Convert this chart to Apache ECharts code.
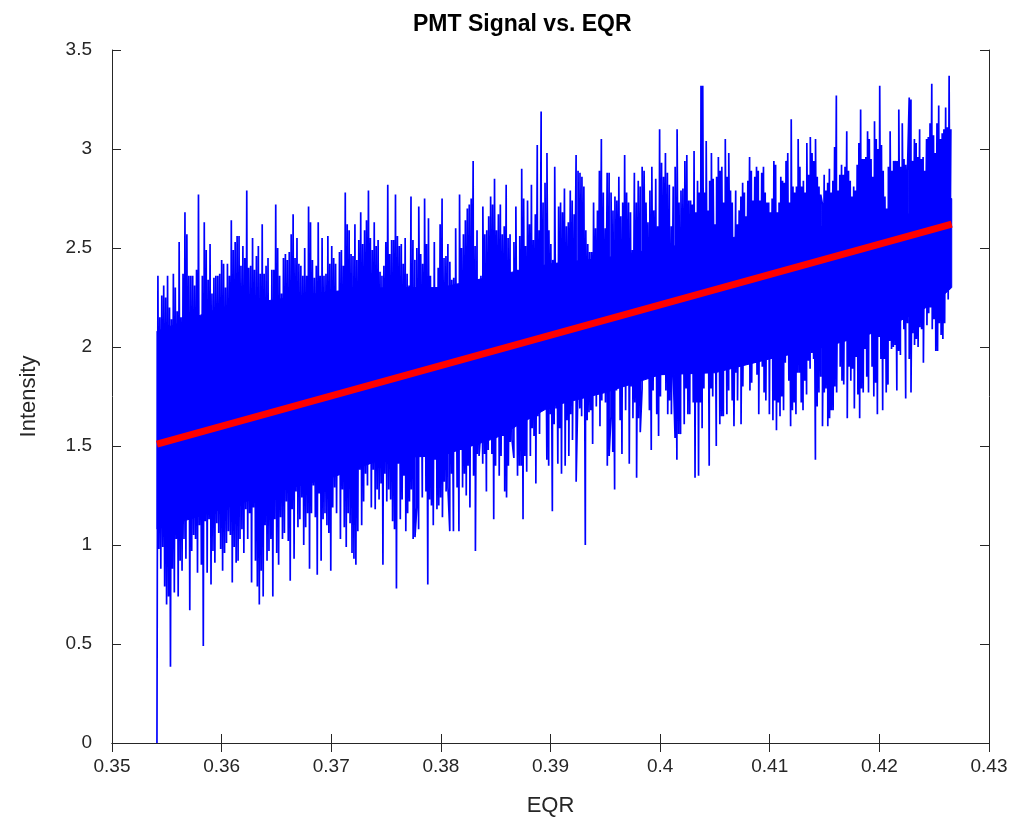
<!DOCTYPE html>
<html><head><meta charset="utf-8">
<script src="https://cdn.jsdelivr.net/npm/echarts@6/dist/echarts.min.js"></script>
<style>html,body{margin:0;padding:0;background:#fff}#c{width:1020px;height:818px}</style>
</head><body><div id="c"></div>
<script>
// ---- data ----
// EQR where each run of readings starts / ends
const runBreaks = [0.3541, 0.3763, 0.4027, 0.4266];

// upper ends of the signal spikes, three runs left to right
const upperRun1 = [
  2.36, 2.15, 2.26, 2.31, 2.25, 2.36, 2.20, 2.14, 2.37, 2.30,
  2.18, 2.53, 2.15, 2.37, 2.68, 2.57, 2.36, 2.36, 2.36, 2.31,
  2.39, 2.77, 2.11, 2.36, 2.63, 2.49, 2.34, 2.52, 2.27, 2.35,
  2.36, 2.36, 2.37, 2.44, 2.42, 2.30, 2.42, 2.36, 2.64, 2.49,
  2.53, 2.56, 2.56, 2.41, 2.51, 2.45, 2.79, 2.40, 2.41, 2.55,
  2.39, 2.46, 2.51, 2.37, 2.62, 2.37, 2.41, 2.45, 2.23, 2.39,
  2.39, 2.72, 2.50, 2.36, 2.27, 2.45, 2.47, 2.44, 2.48, 2.57,
  2.67, 2.45, 2.55, 2.42, 2.41, 2.36, 2.50, 2.36, 2.71, 2.63,
  2.44, 2.35, 2.41, 2.63, 2.36, 2.55, 2.36, 2.37, 2.56, 2.42,
  2.51, 2.45, 2.42, 2.21, 2.48, 2.49, 2.41, 2.78, 2.62, 2.59,
  2.47, 2.46, 2.62, 2.44, 2.54, 2.68, 2.52, 2.59, 2.64, 2.79,
  2.55, 2.49, 2.63, 2.51, 2.54, 2.38, 2.36, 2.41, 2.53, 2.82,
  2.47, 2.54, 2.54, 2.77, 2.56, 2.51
];
const upperRun2 = [
  2.52, 2.42, 2.55, 2.37, 2.31, 2.76, 2.54, 2.44, 2.50, 2.71,
  2.47, 2.42, 2.75, 2.52, 2.65, 2.36, 2.24, 2.53, 2.30, 2.40,
  2.62, 2.75, 2.45, 2.46, 2.52, 2.43, 2.34, 2.35, 2.60, 2.32,
  2.77, 2.50, 2.57, 2.64, 2.70, 2.72, 2.75, 2.94, 2.51, 2.59,
  2.31, 2.36, 2.71, 2.57, 2.59, 2.66, 2.76, 2.72, 2.85, 2.59,
  2.67, 2.72, 2.57, 2.61, 2.82, 2.55, 2.57, 2.27, 2.53, 2.71,
  2.39, 2.56, 2.90, 2.75, 2.51, 2.74, 2.62, 2.82, 2.54, 2.67,
  3.02, 2.59, 3.19, 2.73, 2.83, 2.98, 2.59, 2.52, 2.44, 2.91,
  2.42, 2.71, 2.73, 2.68, 2.80, 2.61, 2.63, 2.79, 2.74, 2.67,
  2.97, 2.89, 2.88, 2.86, 2.81, 2.59, 2.52, 2.48, 2.48, 2.73,
  2.60, 2.69, 2.89, 3.05, 2.78, 2.60, 2.88, 2.88, 2.78, 2.69,
  2.76, 2.74, 2.86, 2.66, 2.73, 2.97, 2.78, 2.73, 2.68, 2.49,
  2.88, 2.73, 2.84, 2.81, 2.91, 2.89, 2.73, 2.63, 2.79, 2.91,
  2.69, 2.85, 2.61, 3.10, 2.93, 2.86, 2.98, 2.88, 2.82, 2.61,
  2.81, 2.91, 3.10, 2.73, 2.79, 2.80, 2.94, 2.97, 2.74
];
const upperRun3 = [
  2.74, 2.72, 2.99, 2.68, 2.84, 2.78, 3.32, 3.32, 2.78, 3.04,
  2.69, 2.84, 2.98, 2.85, 2.62, 2.86, 2.96, 2.89, 2.91, 2.73,
  3.05, 2.86, 2.98, 2.79, 2.73, 2.72, 2.79, 2.62, 2.69, 2.76,
  2.83, 2.78, 2.66, 2.84, 2.96, 2.89, 2.74, 2.86, 2.91, 2.89,
  2.74, 2.88, 2.91, 2.78, 2.73, 2.73, 2.68, 2.75, 2.94, 2.92,
  2.68, 2.73, 2.86, 2.84, 2.83, 2.94, 2.98, 2.73, 3.15, 2.81,
  2.78, 2.81, 3.05, 2.91, 2.81, 2.84, 2.78, 3.03, 2.87, 3.06,
  2.98, 2.94, 3.05, 2.86, 2.81, 2.77, 2.72, 2.87, 2.79, 2.83,
  2.90, 2.78, 2.84, 3.01, 3.27, 2.79, 2.87, 2.92, 2.87, 2.91,
  3.09, 2.89, 2.84, 2.76, 2.81, 2.79, 2.92, 3.03, 3.20, 2.95,
  2.95, 2.96, 3.09, 3.05, 2.95, 2.86, 3.14, 3.05, 3.00, 3.32,
  3.02, 2.89, 2.76, 2.70, 2.91, 3.09, 2.89, 2.94, 2.94, 2.94,
  3.20, 2.91, 3.13, 2.95, 2.92, 2.89, 3.26, 3.25, 2.94, 3.05,
  3.03, 2.96, 3.10, 2.95, 2.96, 2.89, 3.05, 3.06, 3.13, 3.33,
  3.07, 2.98, 3.13, 3.22, 3.05, 3.08, 3.10, 3.21, 3.11, 3.37,
  3.10
];

// lower ends of the signal spikes, three runs left to right
const lowerRun1 = [
  0, 0.98, 0.88, 0.99, 0.79, 0.70, 0.74, 0.385, 0.88, 0.76,
  1.03, 0.74, 0.92, 0.87, 1.03, 0.93, 1.14, 0.67, 0.97, 1.05,
  1.03, 0.86, 1.10, 0.90, 0.49, 1.12, 0.86, 1.13, 0.80, 0.97,
  0.91, 1.11, 1.06, 0.98, 0.87, 0.96, 1.01, 1.07, 1.05, 0.81,
  0.99, 0.91, 0.92, 1.03, 1.08, 0.96, 1.18, 1.03, 1.16, 0.81,
  1.19, 0.92, 0.79, 0.70, 0.87, 0.74, 1.10, 0.92, 0.97, 1.03,
  0.74, 1.13, 0.96, 0.90, 1.14, 1.03, 1.06, 1.22, 1.02, 0.82,
  1.18, 0.93, 1.27, 1.09, 1.13, 1.24, 1.00, 1.09, 1.16, 0.88,
  1.16, 1.30, 1.14, 0.85, 1.26, 0.92, 1.13, 1.16, 1.10, 1.06,
  0.87, 1.19, 1.29, 1.16, 1.36, 1.03, 1.28, 1.09, 0.99, 1.16,
  1.11, 0.96, 0.93, 0.90, 1.07, 1.38, 1.10, 1.22, 1.36, 1.30,
  1.41, 1.19, 1.38, 1.18, 1.28, 1.23, 1.31, 0.90, 1.36, 1.22,
  1.28, 1.23, 1.12, 1.08, 0.78, 1.41
];
const lowerRun2 = [
  1.13, 1.23, 1.35, 1.07, 1.16, 1.22, 1.28, 1.03, 1.04, 1.19,
  1.08, 1.48, 1.24, 1.55, 1.27, 0.80, 1.23, 1.20, 1.10, 1.43,
  1.18, 1.20, 1.24, 1.14, 1.32, 1.27, 1.29, 1.07, 1.36, 1.07,
  1.53, 1.29, 1.07, 1.48, 1.29, 1.36, 1.25, 1.40, 1.19, 1.50,
  1.35, 0.97, 1.46, 1.45, 1.59, 1.41, 1.46, 1.27, 1.48, 1.56,
  1.46, 1.13, 1.40, 1.60, 1.35, 1.45, 1.55, 1.27, 1.24, 1.40,
  1.52, 1.53, 1.44, 1.70, 1.35, 1.40, 1.40, 1.13, 1.45, 1.37,
  1.69, 1.45, 1.59, 1.55, 1.31, 1.65, 1.56, 1.76, 1.70, 1.86,
  1.43, 1.40, 1.66, 1.17, 1.61, 1.69, 1.41, 1.59, 1.36, 1.81,
  1.40, 1.63, 1.45, 1.66, 1.53, 1.96, 1.32, 1.80, 1.69, 1.65,
  1.85, 1.00, 1.63, 1.67, 1.68, 1.51, 1.83, 1.70, 1.80, 1.60,
  1.73, 1.93, 1.72, 1.40, 1.45, 1.65, 1.47, 1.28, 1.78, 1.93,
  1.63, 1.46, 1.83, 1.68, 1.83, 1.41, 1.80, 1.64, 1.72, 1.34,
  1.64, 1.57, 1.79, 2.04, 1.86, 1.89, 1.68, 1.48, 1.78, 1.93,
  1.66, 1.55, 1.75, 1.86, 1.92, 1.78, 1.66, 1.73, 1.66, 1.88,
  1.54, 1.43, 1.56, 1.56, 1.90, 1.61, 1.79, 1.66
];
const lowerRun3 = [
  1.66, 1.87, 1.72, 1.34, 1.72, 1.35, 1.72, 1.59, 1.79, 1.91,
  1.91, 1.40, 1.79, 1.75, 2.01, 1.50, 1.92, 1.61, 1.65, 1.65,
  1.93, 1.66, 1.78, 2.04, 1.73, 1.60, 1.87, 1.73, 1.92, 1.61,
  1.80, 2.11, 1.97, 1.98, 1.78, 1.82, 1.98, 1.92, 1.86, 1.66,
  1.93, 1.90, 1.77, 1.73, 2.05, 1.66, 1.98, 1.63, 1.73, 1.58,
  1.72, 1.65, 1.75, 1.68, 1.92, 2.06, 1.83, 1.60, 1.68, 1.72,
  1.66, 1.87, 1.87, 1.72, 1.68, 1.83, 1.76, 1.93, 1.89, 1.97,
  1.94, 1.43, 1.70, 1.77, 1.85, 1.60, 1.77, 1.79, 1.60, 1.64,
  1.68, 1.68, 1.80, 1.77, 2.03, 1.90, 1.83, 1.81, 2.04, 1.64,
  1.90, 1.83, 1.89, 1.69, 1.95, 1.76, 1.64, 1.79, 1.77, 1.99,
  1.85, 1.77, 2.11, 1.90, 1.75, 1.82, 1.66, 2.05, 1.94, 1.68,
  1.94, 1.77, 1.81, 2.03, 1.99, 2.00, 2.01, 1.78, 1.98, 1.96,
  2.14, 2.09, 1.74, 2.12, 1.94, 1.77, 2.07, 2.01, 2.04, 2.00,
  2.10, 2.09, 1.92, 2.33, 2.11, 2.17, 2.20, 2.09, 2.14, 1.98,
  1.98, 2.12, 2.06, 2.04, 2.12, 2.30, 2.24, 2.31
];

// fully solid core of the signal band
const bodyEqr    = [0.3541, 0.36, 0.365, 0.37, 0.375, 0.38, 0.385, 0.39, 0.395, 0.40, 0.405, 0.41, 0.415, 0.42, 0.425, 0.4266];
const bodyTop    = [2.08, 2.20, 2.24, 2.28, 2.30, 2.30, 2.36, 2.42, 2.45, 2.50, 2.54, 2.58, 2.61, 2.64, 2.70, 2.75];
const bodyBottom = [1.08, 1.18, 1.27, 1.34, 1.44, 1.45, 1.54, 1.70, 1.77, 1.86, 1.87, 1.94, 2.00, 2.08, 2.22, 2.30];

// linear fit
const fitEqr = [0.3541, 0.4266];
const fitIntensity = [1.509, 2.621];

// axes
const xMin = 0.35, xMax = 0.43, xStep = 0.01;
const yMin = 0, yMax = 3.5, yStep = 0.5;

// ---- build series data ----
function placeRuns(runs, offset) {
  const pts = [];
  runs.forEach((arr, k) => {
    const a = runBreaks[k], b = runBreaks[k + 1];
    const step = (b - a) / arr.length;
    arr.forEach((v, i) => pts.push([a + (i + offset) * step, v]));
  });
  return pts;
}
const lowPts = placeRuns([lowerRun1, lowerRun2, lowerRun3], 0);
const upPts = placeRuns([upperRun1, upperRun2, upperRun3], 0.5);
const signal = lowPts.concat(upPts).sort((p, q) => p[0] - q[0]);

const bodyData = bodyEqr.map((e, i) => [e, bodyBottom[i], bodyTop[i]]);
const fit = fitEqr.map((e, i) => [e, fitIntensity[i]]);

const FONT = '"Liberation Sans", Arial, Helvetica, sans-serif';
const AX = '#262626';

const chart = echarts.init(document.getElementById('c'), null, {renderer: 'canvas'});
const commonX = {
  type: 'value', min: xMin, max: xMax, interval: xStep,
  axisLine: {show: true, lineStyle: {color: AX, width: 1}},
  axisTick: {show: true, inside: true, length: 9, lineStyle: {color: AX, width: 1}},
  splitLine: {show: false}
};
const commonY = {
  type: 'value', min: yMin, max: yMax, interval: yStep,
  axisLine: {show: true, lineStyle: {color: AX, width: 1}},
  axisTick: {show: true, inside: true, length: 9, lineStyle: {color: AX, width: 1}},
  splitLine: {show: false}
};

chart.setOption({
  animation: false,
  backgroundColor: '#ffffff',
  textStyle: {fontFamily: FONT},
  title: {
    text: 'PMT Signal vs. EQR', left: 408, top: 8,
    textStyle: {fontFamily: FONT, fontSize: 23, fontWeight: 'bold', color: '#000'}
  },
  grid: {left: 112, right: 31, top: 50, bottom: 75, containLabel: false, outerBoundsMode: 'none'},
  xAxis: [
    Object.assign({}, commonX, {
      position: 'bottom',
      name: 'EQR', nameLocation: 'middle', nameGap: 52,
      nameTextStyle: {fontFamily: FONT, fontSize: 22, color: AX},
      axisLabel: {show: true, margin: 14, fontFamily: FONT, fontSize: 19, color: AX, showMinLabel: true, showMaxLabel: true}
    }),
    Object.assign({}, commonX, {position: 'top', axisLabel: {show: false}})
  ],
  yAxis: [
    Object.assign({}, commonY, {
      position: 'left',
      name: 'Intensity', nameLocation: 'middle', nameGap: 72, nameRotate: 90,
      nameTextStyle: {fontFamily: FONT, fontSize: 22, color: AX},
      axisLabel: {show: true, margin: 20, fontFamily: FONT, fontSize: 19, color: AX, showMinLabel: true, showMaxLabel: true}
    }),
    Object.assign({}, commonY, {position: 'right', axisLabel: {show: false}})
  ],
  series: [
    {
      type: 'custom', data: bodyData, z: 1, silent: true, clip: true,
      encode: {x: 0, y: [1, 2]},
      renderItem: function (params, api) {
        if (params.dataIndex !== 0) return null;
        const pts = [];
        for (let i = 0; i < bodyEqr.length; i++) pts.push(api.coord([bodyEqr[i], bodyTop[i]]));
        for (let i = bodyEqr.length - 1; i >= 0; i--) pts.push(api.coord([bodyEqr[i], bodyBottom[i]]));
        return {type: 'polygon', shape: {points: pts}, style: {fill: '#0000ff', stroke: '#0000ff', lineWidth: 1}};
      }
    },
    {type: 'line', data: signal, symbol: 'none', z: 2,
     lineStyle: {color: '#0000ff', width: 1.7}, silent: true},
    {type: 'line', data: fit, symbol: 'none', z: 3,
     lineStyle: {color: '#ff0000', width: 7}, silent: true}
  ]
});
</script>
</body></html>
